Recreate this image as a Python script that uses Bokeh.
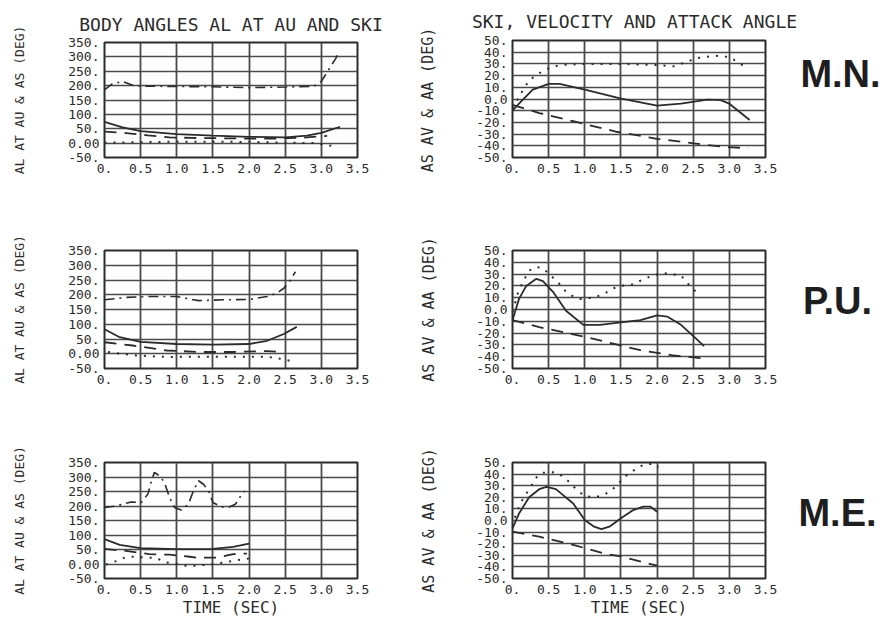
from bokeh.plotting import figure
from bokeh.models import Range1d
from bokeh.layouts import column, row
from bokeh.embed import file_html
from bokeh.resources import INLINE
from bokeh.core.properties import value

# ---------------- data ----------------
x_ticks = [0.0, 0.5, 1.0, 1.5, 2.0, 2.5, 3.0, 3.5]
x_tick_labels = ["0.", "0.5", "1.0", "1.5", "2.0", "2.5", "3.0", "3.5"]
body_ticks = [-50, 0, 50, 100, 150, 200, 250, 300, 350]
body_tick_labels = ["-50.", "0.00", "50.", "100.", "150.", "200.", "250.", "300.", "350."]
ski_ticks = [-50, -40, -30, -20, -10, 0, 10, 20, 30, 40, 50]
ski_tick_labels = ["-50.", "-40.", "-30.", "-20.", "-10.", "0.0", "10.", "20.", "30.", "40.", "50."]
jumpers = ["M.N.", "P.U.", "M.E."]
titles = ["BODY ANGLES AL AT AU AND SKI", "SKI, VELOCITY AND ATTACK ANGLE"]
body_ylabel = "AL AT AU & AS (DEG)"
ski_ylabel = "AS AV & AA (DEG)"
time_label = "TIME (SEC)"

# M.N. body angles
mn_solid_t = [0, 0.25, 0.5, 1.0, 1.5, 2.0, 2.5, 2.8, 3.0, 3.26]
mn_solid_v = [74, 55, 42, 31, 26, 22, 20, 26, 36, 57]
mn_dash_t = [0, 0.3, 0.6, 0.9, 1.2, 1.6, 2.0, 2.4, 2.8, 3.08]
mn_dash_v = [40, 35, 27, 20, 18, 17, 16, 16, 20, 25]
mn_dot_t = [0, 0.5, 1.0, 1.5, 2.0, 2.5, 2.9, 3.1, 3.2]
mn_dot_v = [2, 3, 5, 5, 4, 2, 0, -8, -12]
mn_dd_t = [0, 0.1, 0.25, 0.4, 0.6, 1.0, 1.5, 2.0, 2.5, 2.9, 3.0, 3.1, 3.2, 3.25]
mn_dd_v = [185, 205, 215, 200, 198, 197, 196, 193, 195, 198, 215, 255, 295, 318]
# M.N. ski
mn_as_t = [0, 0.09, 0.28, 0.5, 0.65, 1.0, 1.49, 2.0, 2.33, 2.7, 2.88, 3.0, 3.16, 3.28]
mn_as_v = [-10, -4, 8, 13, 13, 8, 0.6, -5.7, -4, -0.5, -1, -4, -12, -18]
mn_aa_t = [0, 0.12, 0.23, 0.37, 0.49, 0.65, 1.0, 1.5, 2.0, 2.23, 2.42, 2.56, 2.79, 2.98, 3.05, 3.23]
mn_aa_v = [-8, 5, 16, 22, 26, 29, 30, 30, 29, 28, 32, 35, 37, 36, 34, 27]
mn_av_t = [0, 0.37, 0.84, 1.44, 2.0, 2.51, 2.93, 3.26]
mn_av_v = [-5, -12, -19, -28, -34, -38, -41, -42]

# P.U. body angles
pu_solid_t = [0, 0.21, 0.5, 1.0, 1.5, 2.0, 2.25, 2.48, 2.66]
pu_solid_v = [83, 56, 40, 33, 31, 33, 44, 67, 91]
pu_dash_t = [0, 0.39, 0.86, 1.32, 1.78, 2.25, 2.43]
pu_dash_v = [39, 28, 11, 6, 6, 9, 6]
pu_dot_t = [0.05, 0.39, 0.86, 1.3, 1.78, 2.25, 2.43, 2.57]
pu_dot_v = [6, -5, -11, -10, -10, -10, -17, -24]
pu_dd_t = [0, 0.3, 0.62, 1.0, 1.3, 1.64, 2.0, 2.25, 2.39, 2.48, 2.57, 2.64]
pu_dd_v = [183, 191, 194, 194, 180, 183, 184, 194, 206, 222, 248, 278]
# P.U. ski
pu_as_t = [0, 0.09, 0.19, 0.33, 0.42, 0.56, 0.74, 0.98, 1.21, 1.5, 1.77, 2.0, 2.14, 2.33, 2.51, 2.65]
pu_as_v = [-9, 9, 20, 26, 24, 15, -1, -13, -13, -11, -9, -5, -6, -13, -23, -31]
pu_aa_t = [0, 0.07, 0.14, 0.23, 0.33, 0.42, 0.56, 0.63, 0.74, 0.84, 0.93, 1.12, 1.26, 1.4, 1.51,
           1.65, 1.79, 1.95, 2.09, 2.19, 2.33, 2.44, 2.58]
pu_aa_v = [-2, 13, 23, 33, 36, 35, 27, 23, 15, 11, 9, 10, 13, 18, 20, 21, 25, 29, 31, 30, 29, 21, 12.5]
pu_av_t = [0, 0.37, 0.84, 1.3, 1.77, 2.23, 2.65]
pu_av_v = [-9, -15, -21, -27.5, -34.5, -39, -41.5]

# M.E. body angles
me_solid_t = [0, 0.21, 0.5, 1.0, 1.5, 1.78, 2.0]
me_solid_v = [86, 66, 55, 51, 52, 59, 70]
me_dash_t = [0, 0.3, 0.62, 0.9, 1.18, 1.27, 1.55, 1.78, 1.97]
me_dash_v = [52, 45, 34, 32, 25, 22, 22, 34, 36]
me_dot_t = [0.02, 0.16, 0.28, 0.39, 0.62, 0.72, 0.86, 1.0, 1.13, 1.27, 1.5, 1.64, 1.83, 1.97, 2.04]
me_dot_v = [-2, 10, 22, 25, 22, 20, 5, 0, -6, -6, 0, 5, 13, 17, 25]
me_dd_t = [0, 0.16, 0.37, 0.51, 0.6, 0.65, 0.69, 0.76, 0.83, 0.9, 0.97, 1.06, 1.16, 1.23, 1.3,
           1.37, 1.44, 1.5, 1.62, 1.71, 1.81, 1.9, 1.94]
me_dd_v = [195, 200, 214, 212, 241, 287, 316, 304, 281, 229, 195, 186, 206, 252, 287,
           275, 252, 212, 197, 195, 206, 241, 252]
# M.E. ski
me_as_t = [0, 0.09, 0.23, 0.37, 0.47, 0.6, 0.84, 1.0, 1.12, 1.23, 1.35, 1.5, 1.67, 1.81, 1.91, 2.0]
me_as_v = [-6.7, 6, 20, 27, 29, 27, 14.6, 0.4, -5, -7.5, -5, 2, 9, 12, 12, 7.5]
me_aa_t = [0, 0.05, 0.12, 0.19, 0.26, 0.33, 0.4, 0.49, 0.6, 0.67, 0.77, 0.88, 1.0, 1.14, 1.26,
           1.37, 1.5, 1.58, 1.65, 1.74, 1.84, 1.93, 2.02]
me_aa_v = [-5, 6, 16, 23, 30, 37, 41, 41.5, 41.5, 39, 34, 27, 21, 20, 22, 26, 34, 39, 42, 46, 48.6, 48.6, 46]
me_av_t = [0, 0.37, 0.84, 1.3, 1.5, 2.0]
me_av_v = [-9.5, -14, -21, -29, -31, -39]

# ---------------- styling ----------------
INK = "#2b2b2b"
GRID = "#4a4a4a"
MONO = "DejaVu Sans Mono"

SOLID = dict(line_dash="solid", line_width=1.8)
DASH = dict(line_dash="12 8", line_width=1.8)
DOT = dict(line_dash="2 7", line_width=2)
DASHDOT = dict(line_dash="10 5 2 5", line_width=1.6)


def style_axis(ax):
    ax.axis_line_color = None
    ax.major_tick_out = 0
    ax.major_tick_in = 0
    ax.minor_tick_out = 0
    ax.minor_tick_in = 0
    ax.major_label_text_font = MONO
    ax.major_label_text_font_size = "13px"
    ax.major_label_text_color = INK
    ax.axis_label_text_font = MONO
    ax.axis_label_text_font_style = "normal"
    ax.axis_label_text_color = INK


def panel(width, height, bl, br, bt, bb, yr, yticks, ylabels, ylabel, ylabel_size, ylabel_standoff,
          title=None, xlabel=None):
    p = figure(width=width, height=height, x_range=Range1d(0, 3.5), y_range=Range1d(*yr),
               output_backend="svg", toolbar_location=None,
               min_border_left=bl, min_border_right=br, min_border_top=bt, min_border_bottom=bb)
    p.background_fill_color = "white"
    p.border_fill_color = "white"
    p.outline_line_color = INK
    p.outline_line_width = 2
    p.xaxis.ticker = x_ticks
    p.xaxis.major_label_overrides = {float(k): v for k, v in zip(x_ticks, x_tick_labels)}
    p.yaxis.ticker = yticks
    p.yaxis.major_label_overrides = {float(k): v for k, v in zip(yticks, ylabels)}
    style_axis(p.xaxis[0])
    style_axis(p.yaxis[0])
    p.xaxis.major_label_standoff = 6
    p.yaxis.major_label_standoff = 5
    if ylabel:
        p.yaxis.axis_label = ylabel
        p.yaxis.axis_label_text_font_size = ylabel_size
        p.yaxis.axis_label_standoff = ylabel_standoff
    if xlabel:
        p.xaxis.axis_label = xlabel
        p.xaxis.axis_label_text_font_size = "16px"
        p.xaxis.axis_label_standoff = 1
    p.xgrid.grid_line_color = GRID
    p.xgrid.grid_line_width = 1.8
    p.ygrid.grid_line_color = GRID
    p.ygrid.grid_line_width = 1.4
    if title:
        p.title.text = title
        p.title.align = "center"
        p.title.text_font = MONO
        p.title.text_font_size = "18px"
        p.title.text_font_style = "normal"
        p.title.text_color = INK
        p.title.standoff = 15
    return p


def blank(width, height):
    p = figure(width=width, height=height, x_range=Range1d(0, width), y_range=Range1d(height, 0),
               x_axis_location=None, y_axis_location=None, output_backend="svg",
               toolbar_location=None, min_border=0)
    p.outline_line_color = None
    p.background_fill_color = "white"
    p.border_fill_color = "white"
    p.xgrid.visible = False
    p.ygrid.visible = False
    return p


def ylabel_strip(width, height, bt, bb, text):
    # an empty frame whose left axis carries only the rotated axis title
    p = figure(width=width, height=height, x_range=Range1d(0, 1), y_range=Range1d(0, 1),
               x_axis_location=None, output_backend="svg", toolbar_location=None,
               min_border_left=width - 4, min_border_right=0, min_border_top=bt, min_border_bottom=bb)
    p.outline_line_color = None
    p.background_fill_color = "white"
    p.border_fill_color = "white"
    p.xgrid.visible = False
    p.ygrid.visible = False
    p.yaxis.ticker = []
    style_axis(p.yaxis[0])
    p.yaxis.major_label_standoff = 0
    p.yaxis.axis_label = text
    p.yaxis.axis_label_text_font_size = "15px"
    p.yaxis.axis_label_standoff = 8
    return p


def body_panel(h, bt, bb, series, title=None, xlabel=None):
    p = panel(408, h, 104, 51, bt, bb, (-50, 350), body_ticks, body_tick_labels,
              body_ylabel, "13px", 38, title, xlabel)
    (st, sv), (dt, dv), (ot, ov), (ddt, ddv) = series
    p.line(st, sv, color=INK, **SOLID)
    p.line(dt, dv, color=INK, **DASH)
    p.line(ot, ov, color=INK, **DOT)
    p.line(ddt, ddv, color=INK, **DASHDOT)
    return p


def ski_panel(w, h, bl, bt, bb, series, with_ylabel=True, xlabel=None):
    p = panel(w, h, bl, 12, bt, bb, (-50, 50), ski_ticks, ski_tick_labels,
              ski_ylabel if with_ylabel else None, "15px", 35, None, xlabel)
    (st, sv), (ot, ov), (dt, dv) = series
    p.line(st, sv, color=INK, **SOLID)
    p.line(ot, ov, color=INK, **DOT)
    p.line(dt, dv, color=INK, **DASH)
    return p


def name_panel(h, cx, cy, name):
    p = blank(105, h)
    p.text(x=[cx], y=[cy], text=[name], text_font=value("Liberation Sans"),
           text_font_style="bold", text_font_size="38px", text_align="center",
           text_baseline="middle", text_color="#1e1e1e")
    return p


def text_strip(width, height, cx, cy, text, size):
    p = blank(width, height)
    p.text(x=[cx], y=[cy], text=[text], text_font=value(MONO), text_font_size=size,
           text_align="center", text_baseline="middle", text_color=INK)
    return p


r1 = row(
    body_panel(225, 42, 65, [(mn_solid_t, mn_solid_v), (mn_dash_t, mn_dash_v),
                             (mn_dot_t, mn_dot_v), (mn_dd_t, mn_dd_v)], title=titles[0]),
    ylabel_strip(40, 225, 40, 68, ski_ylabel),
    column(
        text_strip(434, 34, 186, 21, titles[1], "18px"),
        row(
            ski_panel(329, 191, 64, 6, 68,
                      [(mn_as_t, mn_as_v), (mn_aa_t, mn_aa_v), (mn_av_t, mn_av_v)],
                      with_ylabel=False),
            name_panel(191, 63, 54, jumpers[0]),
        ),
    ),
)
r2 = row(
    body_panel(205, 25, 58, [(pu_solid_t, pu_solid_v), (pu_dash_t, pu_dash_v),
                             (pu_dot_t, pu_dot_v), (pu_dd_t, pu_dd_v)]),
    ski_panel(369, 205, 104, 23, 62, [(pu_as_t, pu_as_v), (pu_aa_t, pu_aa_v), (pu_av_t, pu_av_v)]),
    name_panel(205, 60, 88, jumpers[1]),
)
r3 = row(
    body_panel(194, 32, 43, [(me_solid_t, me_solid_v), (me_dash_t, me_dash_v),
                             (me_dot_t, me_dot_v), (me_dd_t, me_dd_v)], xlabel=time_label),
    ski_panel(369, 194, 104, 29, 46, [(me_as_t, me_as_v), (me_aa_t, me_aa_v), (me_av_t, me_av_v)],
              xlabel=time_label),
    name_panel(194, 60, 85, jumpers[2]),
)

layout = column(r1, r2, r3)
open("out.html", "w").write(file_html(layout, INLINE))
